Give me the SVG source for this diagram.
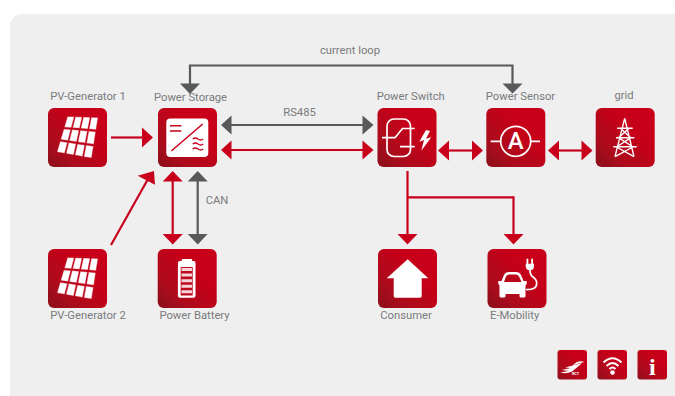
<svg xmlns="http://www.w3.org/2000/svg" xmlns:xlink="http://www.w3.org/1999/xlink" width="675" height="396" viewBox="0 0 675 396">
<style>
.lbl{font-family:Roboto,"Liberation Sans",sans-serif;font-size:11.25px;fill:#7a7b7d;text-anchor:middle}
.box{fill:url(#rg)}
.r{stroke:#c8001c;stroke-width:2.200;fill:none}
.g{stroke:#58595b;stroke-width:2.200;fill:none}
.ha{fill:#c8001c}
.hg{fill:#58595b}
.wl{stroke:#fff;fill:none;stroke-width:1.700}
</style>
<defs>
<linearGradient id="rg" x1="0" y1="1" x2="1" y2="0">
<stop offset="0" stop-color="#8a0f1a"/><stop offset=".25" stop-color="#ab0c1c"/><stop offset=".65" stop-color="#c70019"/><stop offset="1" stop-color="#c90019"/>
</linearGradient>
<rect id="b" class="box" width="59" height="59" rx="6"/>
<rect id="s" class="box" width="29.500" height="29.500" rx="3"/>
<g id="pv">
<use href="#b"/>
<path fill="#fff" stroke="#c2041b" stroke-width=".4" d="M19.500 8.500L26.200 8.700L23.300 19.700L16.350 19.150ZM27.400 8.760L34.100 9L31.600 20.350L24.600 19.800ZM35.400 9L42.100 9.240L39.800 21L32.800 20.450ZM43.300 9.300L50 9.500L48.050 21.650L41.100 21.100ZM15.800 20.900L22.800 21.500L20 32.600L12.700 31.600ZM24.100 21.600L31.100 22.200L28.600 33.800L21.300 32.800ZM32.400 22.350L39.400 23L37.200 35L29.900 34ZM40.700 23.100L47.700 23.700L45.800 36.200L38.500 35.200ZM12.150 33.350L19.500 34.400L16.600 45.300L9 44ZM20.800 34.600L28.100 35.700L25.600 46.900L18 45.600ZM29.500 35.900L36.800 37L34.500 48.400L26.900 47.100ZM38.100 37.100L45.450 38.200L43.500 50L35.900 48.700Z"/>
</g>
</defs>
<rect x="10" y="14" width="680" height="400" rx="12" fill="#efefef"/>
<g id="connectors">
<path class="g" d="M190 84V65.500H512.500V84"/>
<path class="hg" d="M180 83.500H200L190 94ZM502.500 83.500H522.500L512.500 93.500Z"/>
<path class="g" d="M230 125H363"/>
<path class="hg" d="M221 125L231.500 115.500V134.500ZM373.500 125L362.500 115.500V134.500Z"/>
<path class="r" d="M230 150H363"/>
<path class="ha" d="M221 150L231.500 140.500V159.500ZM373.500 150L362.500 140.500V159.500Z"/>
<path class="r" d="M111 137.500H143"/>
<path class="ha" d="M153 137.500L142 127.500V147.500Z"/>
<path class="r" d="M111 245L148 179"/>
<path class="ha" d="M137.700 175.700L154 171L155 184.700Z"/>
<path class="r" d="M172.700 180V236"/>
<path class="ha" d="M172.700 171L182.700 181.500H162.700ZM172.700 244.500L162.700 234H182.700Z"/>
<path class="g" d="M197.700 180V236"/>
<path class="hg" d="M197.700 171L207.700 181.500H187.700ZM197.700 244.500L187.700 234H207.700Z"/>
<path class="r" d="M407.500 171V236M407.500 197.300H513.500V236"/>
<path class="ha" d="M407.500 244.500L397.500 234H417.500ZM513.500 244.500L503.500 234H523.500Z"/>
<path class="r" d="M445 150.500H476"/>
<path class="ha" d="M438 150.500L449 140.500V160.500ZM483 150.500L472 140.500V160.500Z"/>
<path class="r" d="M555 150.500H586"/>
<path class="ha" d="M548 150.500L559 140.500V160.500ZM592.500 150.500L581.500 140.500V160.500Z"/>
</g>
<text class="lbl" x="350" y="54">current loop</text>
<text class="lbl" x="299.500" y="116">RS485</text>
<text class="lbl" x="217" y="203.500">CAN</text>
<g id="pv-generator-1">
<use href="#pv" x="48" y="108"/>
<text class="lbl" x="88" y="100">PV-Generator 1</text>
</g>
<g id="power-storage">
<use href="#b" x="158" y="108"/>
<rect x="166.300" y="118.500" width="42" height="38.500" rx="4" fill="#fff"/>
<path d="M171.300 151L202.700 124M170 125.700H181.300M170 131H181.300" stroke="#c8001c" stroke-width="1.500" fill="none"/>
<path d="M192.700 139q2.700-2 5.300 0t5.300 0M192.700 144q2.700-2 5.300 0t5.300 0M192.700 149q2.700-2 5.300 0t5.300 0" stroke="#c8001c" stroke-width="1.300" fill="none"/>
<text class="lbl" x="190.500" y="101">Power Storage</text>
</g>
<g id="power-switch">
<use href="#b" x="377.500" y="108"/>
<rect class="wl" x="387" y="119" width="23.500" height="37.500" rx="7"/>
<path class="wl" d="M382 137.700H395L402.500 128.500H414.700M400 146.700H414.700"/>
<path fill="#fff" d="M426 130L419.300 141.700L424 140L421.300 150.700L431.300 137.300L426 138.700L430 131Z"/>
<text class="lbl" x="410.700" y="100">Power Switch</text>
</g>
<g id="power-sensor">
<use href="#b" x="486.300" y="108"/>
<circle class="wl" cx="515.700" cy="141.300" r="15"/>
<path class="wl" d="M490.700 141.300H500.700M530.700 141.300H540"/>
<text x="515.700" y="149" font-family="Roboto,'Liberation Sans',sans-serif" font-size="24" font-weight="500" fill="#fff" text-anchor="middle">A</text>
<text class="lbl" x="520.500" y="100">Power Sensor</text>
</g>
<g id="grid">
<use href="#b" x="595.700" y="108"/>
<path d="M624.700 118.300L615 156.700M624.700 118.300L634 156.700M617.300 128.300H632.700M616 137.700H634.300M613.300 146.700H636.700M620.500 128.300L630.700 137.700M629 128.300L618.600 137.700M618.600 137.700L633 147M631 137.700L616.500 147M616.500 147L634 156.700M633 147L615 156.700" stroke="#fff" stroke-width="1.400" fill="none"/>
<text class="lbl" x="624" y="99">grid</text>
</g>
<g id="pv-generator-2">
<use href="#pv" x="48" y="249"/>
<text class="lbl" x="88" y="318.500">PV-Generator 2</text>
</g>
<g id="power-battery">
<use href="#b" x="157.700" y="249"/>
<path fill="#fff" d="M181.700 260a1 1 0 0 1 1-1h8.500a1 1 0 0 1 1 1v1h2a2 2 0 0 1 1.300 2v32.700a2 2 0 0 1-2 2h-13.600a2 2 0 0 1-2-2V263a2 2 0 0 1 2-2h1.800Z"/>
<rect x="180.700" y="267" width="12" height="28.500" fill="#bd0a1e"/>
<path d="M181.500 269.500H192M181.500 275H192M181.500 280.700H192M181.500 286.200H192M181.500 291.700H192" stroke="#f6d5d8" stroke-width="3"/>
<text class="lbl" x="194.500" y="318.500">Power Battery</text>
</g>
<g id="consumer">
<use href="#b" x="378" y="249"/>
<path fill="#fff" d="M407.700 259.300L428.300 278.300H421.700V296a1.700 1.700 0 0 1-1.700 1.700H395.400a1.700 1.700 0 0 1-1.700-1.700V278.300H386.700Z"/>
<text class="lbl" x="406" y="318.500">Consumer</text>
</g>
<g id="e-mobility">
<use href="#b" x="487.500" y="249"/>
<path fill="#fff" fill-rule="evenodd" d="M501.500 281L503.500 276Q505 272 509 272H516Q520 272 521.500 276L523.500 281H526.700V284L525.500 285.500V296Q525.500 297.500 524 297.500H521Q519.500 297.500 519.500 296V294H505.500V296Q505.500 297.500 504 297.500H501Q499.500 297.500 499.500 296V285.500L498.300 284V281ZM504 282H521.500L519 276.500Q518 274.500 515.500 274.500H509.500Q507 274.500 506 276.500Z"/>
<path fill="none" stroke="#fff" stroke-width="1.700" d="M526 289.500Q536.700 290 536.700 283.500Q536.700 279.500 533 277Q530 275 530 270"/>
<path fill="#fff" d="M525.700 263.700H534V266Q534 270 530 270.500Q525.700 270 525.700 266ZM526.500 258.700H528.300V263.700H526.500ZM531.200 258.700H533V263.700H531.200Z"/>
<text class="lbl" x="514.700" y="318.500">E-Mobility</text>
</g>
<g id="icon-logo">
<use href="#s" x="557.500" y="350"/>
<path fill="#fff" d="M572.500 365.500Q578 359.500 584.500 362Q578 363 572.500 365.500ZM565 367.500Q574 365.500 581.700 363Q578 369.500 565 367.500ZM561.700 370Q570 368.500 578.300 366Q574 372.500 561.700 370ZM560 372.700Q568 371.500 575 368.800Q571 374.500 560 372.700Z"/>
<text x="575.500" y="375.300" font-family="Roboto,'Liberation Sans',sans-serif" font-size="3.800" font-weight="700" fill="#fff" text-anchor="middle">RCT</text>
</g>
<g id="icon-wifi">
<use href="#s" x="597.500" y="350"/>
<path fill="none" stroke="#fff" stroke-width="2" d="M603.500 362.500Q612.500 354 621.500 362.500M606.500 366Q612.500 360 618.500 366M609.500 369Q612.500 366 615.500 369"/>
<circle cx="612.500" cy="372.500" r="2.300" fill="#fff"/>
</g>
<g id="icon-info">
<use href="#s" x="637.500" y="350"/>
<text x="652.300" y="375" font-family="'Liberation Serif',serif" font-weight="700" font-size="24" fill="#fff" text-anchor="middle">i</text>
</g>
</svg>
